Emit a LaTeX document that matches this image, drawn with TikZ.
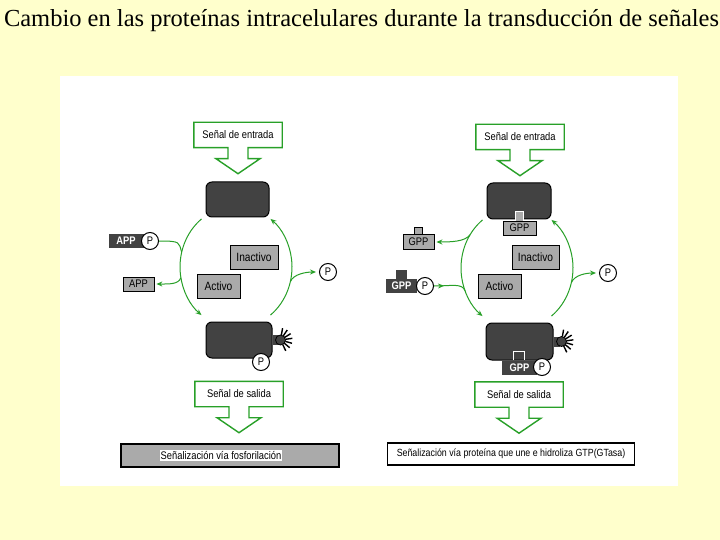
\documentclass[tikz,border=0pt]{standalone}
\usepackage{fontspec}
\setmainfont{Liberation Serif}
\newfontfamily\pix[FakeStretch=0.85]{Liberation Sans}
\usepackage{tikz}
\usetikzlibrary{arrows.meta,decorations.markings}
\definecolor{paper}{RGB}{255,255,204}
\definecolor{leaf}{RGB}{40,160,40}
\definecolor{prot}{RGB}{66,66,66}
\definecolor{shade}{RGB}{170,170,170}
\tikzstyle{senal} = [rectangle, minimum width=88pt, minimum height=25pt, inner sep=0pt, font=\pix\fontsize{11}{12}\selectfont]
\tikzstyle{senalline} = [draw=leaf, line width=1.4pt]
\tikzstyle{prote} = [rectangle, rounded corners=6pt, draw=black, fill=prot, line width=1pt]
\tikzstyle{estado} = [rectangle, draw=black, fill=shade, line width=0.8pt, minimum height=24pt, inner sep=0pt, font=\pix\fontsize{12}{13}\selectfont]
\tikzstyle{gris} = [rectangle, draw=black, fill=shade, line width=0.8pt, minimum height=14pt, inner sep=0pt, font=\pix\fontsize{11}{12}\selectfont]
\tikzstyle{oscuro} = [rectangle, fill=prot, text=white, minimum height=14pt, inner sep=0pt, font=\pix\bfseries\fontsize{11}{12}\selectfont]
\tikzstyle{fosfato} = [circle, draw=black, fill=white, line width=1pt, minimum size=17pt, inner sep=0pt, font=\pix\fontsize{11}{12}\selectfont]
\tikzstyle{ciclo} = [draw=leaf, line width=1pt]
\tikzstyle{flecha} = [ciclo, -{Stealth[length=6pt,width=5pt]}]
\tikzstyle{entra} = [ciclo, postaction={decorate}, decoration={markings, mark=at position 0.3 with {\arrow{Stealth[length=6pt,width=5pt]}}}]
\newcommand{\flechota}[1]{\draw[senalline] (#1.south west) -- (#1.north west) -- (#1.north east) -- (#1.south east)
  -- ([xshift=10pt]#1.south) -- ++(0,11) -- ++(12,0) -- ++(-22,15) -- ++(-22,-15) -- ++(12,0) -- ++(0,-11) -- cycle;}
\newcommand{\activa}[1]{\fill[prot] ([yshift=5pt]#1.east) rectangle ([xshift=6pt,yshift=-5pt]#1.east);
  \filldraw[fill=prot,draw=black,line width=0.8pt] (#1.east) ++(8,0) circle (5);
  \foreach \a in {-80,-56,...,80} \draw[line width=1.4pt] (#1.east) ++(8,0) ++(\a:5) -- ++(\a:7);}
\begin{document}
\begin{tikzpicture}[x=1pt,y=-1pt]
% fondo
\useasboundingbox (0,0) rectangle (720,540);
\fill[paper] (0,0) rectangle (720,540);
\fill[white] (60,76) rectangle (678,486);
\node (titulo) [inner sep=0pt] at (361.5,21) {\fontsize{24.5}{28}\selectfont Cambio en las proteínas intracelulares durante la transducción de señales};

% fosforilacion
\node (entradaL) [senal] at (238,135) {Señal de entrada};
\flechota{entradaL}
\node (protL1) [prote, minimum width=63pt, minimum height=35pt] at (237.5,199.5) {};
\node (protL2) [prote, minimum width=66pt, minimum height=36pt] at (239,340) {};
\activa{protL2}
\node (pL3) [fosfato] at (261,362) {P};
\node (inactL) [estado, minimum width=48pt] at (254,257) {Inactivo};
\node (actL) [estado, minimum width=43pt] at (218.5,286) {Activo};
\coordinate (cL) at (236,267);
\draw[flecha] (cL) ++(232:56 and 61) arc[start angle=232, end angle=128, x radius=56, y radius=61];
\draw[flecha] (cL) ++(52:56 and 61) arc[start angle=52, end angle=-52, x radius=56, y radius=61];
\path (cL) ++(194:56 and 61) coordinate (jL1);
\path (cL) ++(170:56 and 61) coordinate (jL2);
\path (cL) ++(14:56 and 61) coordinate (jL3);
\node (appP) [oscuro, minimum width=35pt] at (126,240.5) {APP};
\node (pL1) [fosfato] at (150,241) {P};
\node (app) [gris, minimum width=31pt] at (138.5,284) {APP};
\node (pL2) [fosfato] at (328,272) {P};
\draw[ciclo] (pL1.east) .. controls +(22,0) and +(-3,-10) .. (jL1);
\draw[flecha, shorten >=2pt] (jL2) .. controls +(-2,7) and +(14,0) .. (app.east);
\draw[flecha, shorten >=3pt] (jL3) .. controls +(3,-8) and +(-12,0) .. (pL2.west);
\node (salidaL) [senal] at (239,394) {Señal de salida};
\flechota{salidaL}
\node (barL) [rectangle, draw=black, line width=1.2pt, fill=shade, minimum width=218pt, minimum height=23pt] at (230,455.5) {};
\node (textoL) [fill=white, inner sep=1pt, font=\pix\fontsize{11}{12}\selectfont] at (221,455.5) {Señalización vía fosforilación};

% GTPasa
\node (entradaR) [senal] at (520,137) {Señal de entrada};
\flechota{entradaR}
\node (protR1) [prote, minimum width=64pt, minimum height=36pt] at (519,201) {};
\filldraw[fill=shade, draw=white, line width=0.8pt] (515,211) rectangle (523,222);
\node (gppR1) [gris, minimum width=33pt] at (519.5,228) {GPP};
\node (protR2) [prote, minimum width=67pt, minimum height=37pt] at (519.5,341.5) {};
\activa{protR2}
\node (gppR2) [oscuro, minimum width=35pt] at (519.5,367.5) {GPP};
\draw[white, line width=1pt] (513,360) -- (513,351) -- (524,351) -- (524,360);
\node (pR3) [fosfato] at (542,367) {P};
\node (inactR) [estado, minimum width=47pt] at (535.5,257) {Inactivo};
\node (actR) [estado, minimum width=43pt] at (499.5,286) {Activo};
\coordinate (cR) at (517,268);
\draw[flecha] (cR) ++(232:56 and 61) arc[start angle=232, end angle=128, x radius=56, y radius=61];
\draw[flecha] (cR) ++(52:56 and 61) arc[start angle=52, end angle=-52, x radius=56, y radius=61];
\path (cR) ++(213:56 and 61) coordinate (jR1);
\path (cR) ++(158:56 and 61) coordinate (jR2);
\path (cR) ++(14:56 and 61) coordinate (jR3);
\filldraw[fill=shade, draw=black, line width=0.8pt] (414,227) rectangle (422,235);
\node (gppL) [gris, minimum width=31pt, minimum height=15pt] at (418.5,242) {GPP};
\fill[prot] (396,270) rectangle (407,279);
\node (gtp) [oscuro, minimum width=31pt] at (401.5,285.5) {GPP};
\node (pR1) [fosfato] at (425,286) {P};
\node (pR2) [fosfato] at (608,273) {P};
\draw[flecha, shorten >=2pt] (jR1) .. controls +(-5,7) and +(16,0) .. (gppL.east);
\draw[entra] (pR1.east) .. controls +(18,0) and +(-3,-8) .. (jR2);
\draw[flecha, shorten >=3pt] (jR3) .. controls +(3,-8) and +(-12,0) .. (pR2.west);
\node (salidaR) [senal] at (519,394.5) {Señal de salida};
\flechota{salidaR}
\node (barR) [rectangle, draw=black, line width=1.8pt, fill=white, minimum width=247pt, minimum height=22pt, font=\pix\fontsize{10.4}{12}\selectfont] at (511,454) {Señalización vía proteína que une e hidroliza GTP(GTasa)};
\end{tikzpicture}
\end{document}
